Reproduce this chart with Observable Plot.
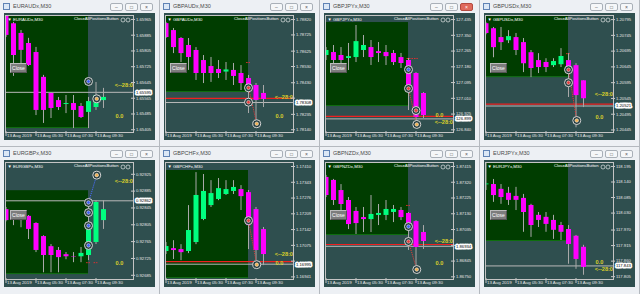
<!DOCTYPE html>
<html><head><meta charset="utf-8">
<script src="https://cdn.jsdelivr.net/npm/d3@7"></script>
<script src="https://cdn.jsdelivr.net/npm/@observablehq/plot@0.6"></script>
<style>
body{margin:0;width:640px;height:294px;background:#b4b9bf;position:relative;overflow:hidden;font-family:"Liberation Sans",Arial,sans-serif;}
.win{position:absolute;width:159px;background:#edf0f4;}
.icon{position:absolute;left:3px;top:3px;width:5px;height:5px;border:1px solid #5f82b4;background:#dbe7f5;}
.title{position:absolute;left:13px;top:3px;font-size:5.5px;color:#4a4a4a;line-height:7px;white-space:nowrap;}
.btn{position:absolute;top:3px;width:13px;height:8px;border:1px solid #a9b0b8;border-radius:2px;background:#f5f7f9;box-sizing:border-box;font-size:5px;line-height:6px;text-align:center;color:#555;}
.btn.red{background:#e06a5c;border-color:#b34a40;color:#fff;}
.client{position:absolute;left:4px;top:13px;width:151px;height:127px;background:#2f4f4f;overflow:hidden;}
.client svg{position:absolute;left:0;top:0;display:block;}
.close{position:absolute;left:6px;top:50px;width:17px;height:10px;background:#7d7d7d;border:1px solid #bcbcbc;border-right-color:#555;border-bottom-color:#555;box-sizing:border-box;color:#fff;font-size:5px;line-height:8px;text-align:center;}
</style>
</head><body>
<script>
// ---- shared time axis ----
const times = ["03:30","04:00","04:30","05:00","05:30","06:00","06:30","07:00","07:30","08:00","08:30","09:00","09:30","10:00"];
const xTickIdx = [0, 4, 8, 12];
const xTickLabels = ["13 Aug 2019", "13 Aug 05:30", "13 Aug 07:30", "13 Aug 09:30"];
const zoneEndBar = 11;

// ---- symbols ----
const symbols = ["EURAUDx,M30","GBPAUDx,M30","GBPJPYx,M30","GBPUSDx,M30","EURGBPx,M30","GBPCHFx,M30","GBPNZDx,M30","EURJPYx,M30"];

// ---- OHLC per symbol [open, high, low, close] ----
const eurAud = [
 [1.65985,1.65985,1.65874,1.65884],[1.65943,1.65950,1.65676,1.65782],[1.65894,1.65909,1.65691,1.65808],
 [1.65843,1.65869,1.65726,1.65731],[1.65797,1.65823,1.65477,1.65503],[1.65671,1.65681,1.65437,1.65503],
 [1.65589,1.65594,1.65462,1.65513],[1.65553,1.65569,1.65503,1.65518],[1.65533,1.65579,1.65487,1.65538],
 [1.65538,1.65579,1.65411,1.65503],[1.65523,1.65538,1.65462,1.65467],[1.65493,1.65569,1.65411,1.65548],
 [1.65518,1.65645,1.65503,1.65579],[1.65553,1.65615,1.65513,1.65569]];
const gbpAud = [
 [1.78795,1.78802,1.78703,1.78709],[1.78752,1.78765,1.78610,1.78647],[1.78703,1.78709,1.78555,1.78610],
 [1.78660,1.78703,1.78506,1.78586],[1.78629,1.78647,1.78444,1.78487],[1.78567,1.78598,1.78425,1.78487],
 [1.78530,1.78586,1.78432,1.78487],[1.78512,1.78567,1.78456,1.78487],[1.78496,1.78555,1.78444,1.78509],
 [1.78506,1.78549,1.78413,1.78469],[1.78487,1.78536,1.78382,1.78425],[1.78456,1.78475,1.78240,1.78382],
 [1.78413,1.78425,1.78154,1.78321],[1.78364,1.78413,1.78277,1.78327]];
const gbpJpy = [
 [127.241,127.284,127.214,127.268],[127.257,127.295,127.187,127.214],[127.241,127.284,127.187,127.214],
 [127.225,127.306,127.160,127.235],[127.230,127.403,127.203,127.316],[127.268,127.349,127.230,127.295],
 [127.284,127.322,127.187,127.230],[127.262,127.311,127.203,127.252],[127.257,127.295,127.187,127.235],
 [127.252,127.268,127.187,127.203],[127.230,127.252,127.171,127.198],[127.214,127.225,126.944,127.052],
 [127.144,127.149,126.874,126.906],[127.036,127.041,126.901,126.917]];
const gbpUsd = [
 [1.20782,1.20785,1.20747,1.20751],[1.20766,1.20770,1.20674,1.20706],[1.20738,1.20770,1.20697,1.20722],
 [1.20728,1.20760,1.20719,1.20741],[1.20738,1.20751,1.20681,1.20697],[1.20722,1.20735,1.20627,1.20655],
 [1.20690,1.20697,1.20611,1.20640],[1.20665,1.20687,1.20624,1.20643],[1.20659,1.20671,1.20627,1.20643],
 [1.20649,1.20671,1.20643,1.20662],[1.20652,1.20703,1.20643,1.20678],[1.20665,1.20687,1.20548,1.20627],
 [1.20649,1.20655,1.20452,1.20554],[1.20601,1.20601,1.20516,1.20544]];
const eurGbp = [
 [0.92841,0.92846,0.92812,0.92815],[0.92832,0.92836,0.92803,0.92817],[0.92827,0.92832,0.92798,0.92815],
 [0.92825,0.92827,0.92770,0.92794],[0.92808,0.92810,0.92739,0.92744],[0.92777,0.92779,0.92691,0.92732],
 [0.92753,0.92758,0.92691,0.92732],[0.92744,0.92751,0.92691,0.92727],[0.92734,0.92739,0.92722,0.92729],
 [0.92729,0.92739,0.92715,0.92728],[0.92729,0.92751,0.92715,0.92737],[0.92732,0.92858,0.92720,0.92794],
 [0.92763,0.92862,0.92758,0.92858],[0.92815,0.92862,0.92794,0.92841]];
const gbpChf = [
 [1.17049,1.17087,1.17036,1.17070],[1.17061,1.17095,1.17015,1.17053],[1.17057,1.17078,1.17010,1.17044],
 [1.17049,1.17244,1.17040,1.17138],[1.17087,1.17384,1.17078,1.17287],[1.17185,1.17376,1.17180,1.17304],
 [1.17244,1.17350,1.17236,1.17295],[1.17270,1.17359,1.17265,1.17316],[1.17291,1.17350,1.17287,1.17312],
 [1.17304,1.17350,1.17291,1.17321],[1.17312,1.17329,1.17223,1.17282],[1.17299,1.17308,1.17057,1.17159],
 [1.17227,1.17236,1.17010,1.17053],[1.17142,1.17151,1.16989,1.17036]];
const gbpNzd = [
 [1.87349,1.87361,1.87228,1.87240],[1.87331,1.87337,1.87180,1.87210],[1.87270,1.87306,1.87095,1.87186],
 [1.87210,1.87228,1.87035,1.87065],[1.87144,1.87168,1.87005,1.87071],[1.87107,1.87168,1.87017,1.87095],
 [1.87095,1.87240,1.87017,1.87126],[1.87120,1.87186,1.87059,1.87132],[1.87120,1.87210,1.87089,1.87156],
 [1.87138,1.87180,1.87077,1.87156],[1.87150,1.87168,1.87089,1.87107],[1.87132,1.87138,1.86909,1.87035],
 [1.87083,1.87089,1.86776,1.86927],[1.87017,1.87059,1.86915,1.86963]];
const eurJpy = [
 [118.130,118.209,118.110,118.133],[118.131,118.149,118.068,118.092],[118.114,118.131,118.061,118.085],
 [118.100,118.121,118.057,118.075],[118.089,118.121,118.039,118.075],[118.082,118.096,117.962,118.032],
 [118.057,118.061,117.944,117.986],[118.022,118.032,117.979,118.004],[118.015,118.032,117.962,117.990],
 [118.004,118.022,117.937,117.969],[117.986,117.997,117.933,117.962],[117.972,117.986,117.849,117.919],
 [117.948,117.951,117.831,117.866],[117.909,117.916,117.810,117.838]];

// ---- price axis tick labels ----
const eurAudTicks = [1.65965,1.65885,1.65805,1.65725,1.65645,1.65565,1.65485,1.65405];
const gbpAudTicks = [1.78820,1.78725,1.78625,1.78530,1.78430,1.78335,1.78235,1.78140];
const gbpJpyTicks = [127.435,127.350,127.265,127.180,127.095,127.010,126.925,126.840];
const gbpUsdTicks = [1.20795,1.20745,1.20695,1.20645,1.20595,1.20545,1.20495,1.20445];
const eurGbpTicks = [0.92925,0.92885,0.92845,0.92805,0.92765,0.92725,0.92685];
const gbpChfTicks = [1.17410,1.17343,1.17276,1.17209,1.17142,1.17075,1.17008,1.16941];
const gbpNzdTicks = [1.87415,1.87320,1.87225,1.87130,1.87035,1.86940,1.86845,1.86750];
const eurJpyTicks = [118.195,118.140,118.085,118.030,117.970,117.915,117.860,117.805];

// ---- visible price range per chart [low, high] ----
const priceRanges = [[1.65391,1.65985],[1.78123,1.78845],[126.8255,127.457],[1.20437,1.20808],
                     [0.92675,0.92953],[1.16930,1.17427],[1.86734,1.87439],[117.795,118.209]];
const decimals = [5,5,3,5,5,5,5,3];

// ---- zone (bottom, top) price, bid line, red line ----
const zones = [[1.65416,1.65985],[1.78376,1.78845],[126.971,127.419],[1.20614,1.20808],
               [0.92689,0.92886],[1.16938,1.17393],[1.87005,1.87439],[117.933,118.209]];
const bidPrices = [1.65595,1.78308,126.899,1.20521,0.92862,1.16995,1.86934,117.843];
const redLines = [[],[1.78333],[126.912],[1.20527],[],[1.17006],[1.86945],[]];
// ---- "<--28:0" and "0.0" label prices ----
const arrowLabelPrices = [1.65630,1.78339,126.879,1.20557,0.92908,1.17036,1.86963,117.831];
const zeroLabelPrices  = [1.65472,1.78222,126.917,1.20487,0.92713,1.16998,1.86830,117.856];
// ---- order markers [bar, price, kind] ----
const orderMarks = [
 [[11,1.65650,"b"],[12.1,1.65562,"t"]],
 [[11,1.78399,"r"],[11,1.78310,"r"],[12.1,1.78177,"t"]],
 [[11,127.165,"b"],[11,127.063,"r"],[12,126.944,"r"],[12.1,126.869,"t"]],
 [[11,1.20636,"r"],[11,1.20595,"r"],[12.1,1.20475,"t"]],
 [[11,0.92858,"b"],[11,0.92834,"b"],[11,0.92803,"b"],[11,0.92756,"b"],[12.1,0.92923,"t"]],
 [[11,1.17180,"r"],[12.1,1.16993,"t"]],
 [[11,1.87053,"b"],[11,1.86963,"r"],[12.1,1.86794,"t"]],
 []];
// ---- trade paths [bar1, price1, bar2, price2] ----
const tradePaths = [[],[[11,1.78399,12.1,1.78177]],[[11,127.063,12.1,126.869]],[[11,1.20636,12.1,1.20475]],
                    [[11,0.92858,12.1,0.92923]],[[11,1.17180,12.1,1.16993]],[[11,1.86963,12.1,1.86794]],[]];
const tradeSide = ["sell","sell","sell","sell","buy","sell","sell","sell"];
// ---- stop marks [bar from, bar to, price] ----
const stopMarks = [[],[[10.75,11.25,1.78555]],[[10.8,12.3,127.225]],[[10.75,11.25,1.20687]],
                   [[10.75,11.25,0.92715],[11.75,12.25,0.92715]],[],[[10.75,11.25,1.87180]],[]];
const hasButtons = [true,true,true,true,true,false,true,true];

const series = [eurAud,gbpAud,gbpJpy,gbpUsd,eurGbp,gbpChf,gbpNzd,eurJpy];
const tickSets = [eurAudTicks,gbpAudTicks,gbpJpyTicks,gbpUsdTicks,eurGbpTicks,gbpChfTicks,gbpNzdTicks,eurJpyTicks];

const xDomain = [-0.067, 17.0];
const markColor = {b: "#3a5cf0", r: "#e23a3a", t: "#f2b050"};
const font = "'Liberation Sans', Arial, sans-serif";
const frameHeight = 117;

series.forEach((ohlc, k) => {
  const col = k % 4, row = Math.floor(k / 4);
  const win = document.createElement("div");
  win.className = "win";
  win.style.left = (col * 160) + "px";
  win.style.top = (row * 147) + "px";
  win.style.height = (row === 0 ? 146 : 147) + "px";
  win.innerHTML = `<div class="icon"></div><div class="title">${symbols[k]}</div>
    <div class="btn" style="left:110px">&#8211;</div><div class="btn" style="left:125px">&#9633;</div>
    <div class="btn${k === 2 ? " red" : ""}" style="left:140px">&#215;</div>`;
  const client = document.createElement("div");
  client.className = "client";
  win.appendChild(client);
  document.body.appendChild(win);

  const dec = decimals[k];
  const fmt = d => d.toFixed(dec);
  const data = ohlc.map(([o, h, l, c], i) => ({i, t: times[i], o, h, l, c}));
  const zone = zones[k];
  const pathColor = tradeSide[k] === "buy" ? "#4a6cff" : "#e23a3a";
  // the bid price box hides a tick label lying right under it
  const pxPerUnit = frameHeight / (priceRanges[k][1] - priceRanges[k][0]);
  const shownTicks = tickSets[k].filter(t => Math.abs(t - bidPrices[k]) * pxPerUnit > 4.5);

  const marks = [
    Plot.rect([zone], {x1: xDomain[0], x2: zoneEndBar, y1: d => d[0], y2: d => d[1], fill: "#003d00"}),
    Plot.ruleY([zone[0]], {x1: xDomain[0], x2: zoneEndBar, stroke: "#0e6e0e"}),
    Plot.ruleY([bidPrices[k]], {y: d => d, stroke: "#b9b9b9"}),
    Plot.ruleY(redLines[k], {y: d => d, stroke: "#f02020", strokeWidth: 1.2}),
    Plot.ruleY(stopMarks[k], {x1: d => d[0], x2: d => d[1], y: d => d[2], stroke: "#e03030", strokeDasharray: "1.5,1"}),
    Plot.ruleX(data, {x: "i", y1: "l", y2: "h", stroke: "#a9a9a9", clip: true}),
    Plot.ruleX(data, {x: "i", y1: "o", y2: "c", stroke: d => d.c >= d.o ? "#00ff7f" : "#ff00ff", strokeWidth: 5, clip: true}),
    Plot.link(tradePaths[k], {x1: d => d[0], y1: d => d[1], x2: d => d[2], y2: d => d[3], stroke: pathColor, strokeDasharray: "1.2,1"}),
    Plot.dot(orderMarks[k], {x: d => d[0], y: d => d[1], r: 4, fill: "#233a3a", stroke: "#d6d6d6", strokeWidth: 1}),
    Plot.dot(orderMarks[k], {x: d => d[0], y: d => d[1], r: 1.8, fill: d => markColor[d[2]], stroke: "#ffffff", strokeWidth: 0.5}),
    Plot.text([arrowLabelPrices[k]], {y: d => d, frameAnchor: "right", textAnchor: "end", dx: -0.5, text: () => "<--28:0", fill: "#d9cf2c", fontSize: 5.6, fontWeight: "bold"}),
    Plot.text([zeroLabelPrices[k]], {x: () => 15.13, y: d => d, text: () => "0.0", fill: "#d9cf2c", fontSize: 5.6, fontWeight: "bold"}),
    Plot.text([symbols[k]], {frameAnchor: "top-left", dx: 2, dy: 2, text: d => "\u25BC " + d, fill: "#ffffff", fontSize: 4.3}),
    hasButtons[k] ? Plot.text(["CloseAllPositionsButton"], {frameAnchor: "top-right", textAnchor: "end", dx: -15, dy: 2, text: d => d, fill: "#ffffff", fontSize: 4.2}) : null,
    hasButtons[k] ? Plot.dot([0], {frameAnchor: "top-right", dx: -10.5, dy: 4.5, r: 2, stroke: "#ffffff", fill: "none", strokeWidth: 0.6}) : null,
    hasButtons[k] ? Plot.dot([0], {frameAnchor: "top-right", dx: -5.5, dy: 4.5, r: 2, stroke: "#ffffff", fill: "none", strokeWidth: 0.6}) : null,
    // price axis
    Plot.ruleY(tickSets[k], {y: d => d, stroke: "#c8c8c8", insetLeft: 126, insetRight: -2}),
    Plot.text(shownTicks, {y: d => d, frameAnchor: "right", textAnchor: "start", dx: 2.5, text: fmt, fill: "#e6e6e6", fontSize: 4.2}),
    Plot.text([bidPrices[k]], {y: d => d, frameAnchor: "right", textAnchor: "start", dx: 2.5, text: fmt, fill: "#000000", stroke: "#ffffff", strokeWidth: 3, fontSize: 4.2}),
    // time axis
    Plot.ruleX(xTickIdx, {x: d => d, stroke: "#c8c8c8", insetTop: 116, insetBottom: -4}),
    Plot.text(xTickIdx, {x: d => d, frameAnchor: "bottom", lineAnchor: "middle", textAnchor: "start", dx: 1, dy: 3.5, text: (d, i) => xTickLabels[i], fill: "#e6e6e6", fontSize: 4.4}),
    Plot.frame({stroke: "#c4c4c4"})
  ].filter(Boolean);

  const svg = Plot.plot({
    width: 151, height: 127,
    marginLeft: 1, marginRight: 22, marginTop: 2, marginBottom: 8,
    x: {domain: xDomain, axis: null},
    y: {domain: priceRanges[k], axis: null},
    style: {background: "none", fontFamily: font, overflow: "visible"},
    marks
  });
  client.appendChild(svg);
  if (hasButtons[k]) {
    const b = document.createElement("div");
    b.className = "close";
    b.textContent = "Close";
    client.appendChild(b);
  }
});
</script>
</body></html>
